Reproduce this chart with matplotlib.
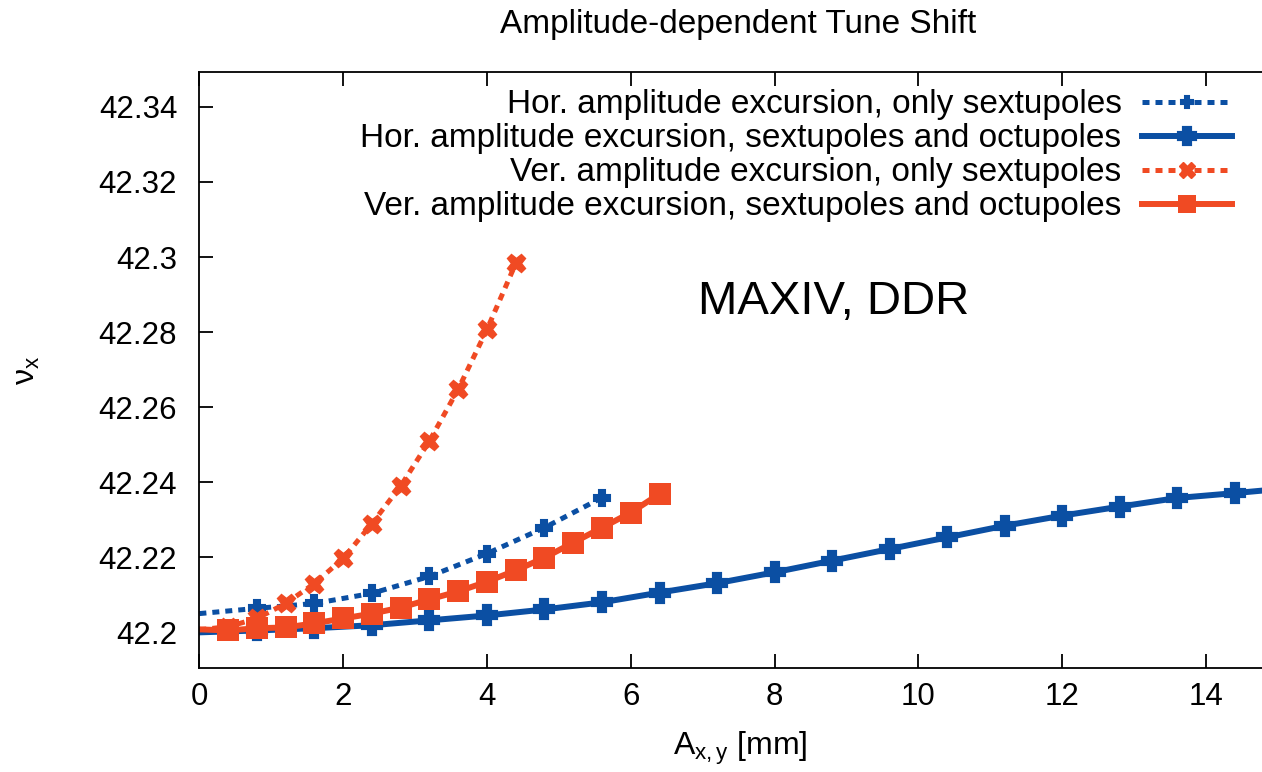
import numpy as np
import matplotlib
matplotlib.use('Agg')
import matplotlib.pyplot as plt
from matplotlib.ticker import FuncFormatter

plt.rcParams['font.family'] = ['Liberation Sans', 'DejaVu Sans']
plt.rcParams['mathtext.fontset'] = 'custom'
plt.rcParams['mathtext.rm'] = 'Liberation Sans'
plt.rcParams['mathtext.it'] = 'Liberation Sans:italic'

# data
hor_sext_x = [0.0, 0.8, 1.6, 2.4, 3.2, 4.0, 4.8, 5.6]
hor_sext_y = [42.2050, 42.2064, 42.2077, 42.2104, 42.2149, 42.2210, 42.2279, 42.2359]

hor_oct_x = [0.0, 0.8, 1.6, 2.4, 3.2, 4.0, 4.8, 5.6, 6.4, 7.2, 8.0, 8.8,
             9.6, 10.4, 11.2, 12.0, 12.8, 13.6, 14.4, 15.2]
hor_oct_y = [42.2000, 42.2005, 42.2011, 42.2019, 42.2032, 42.2045, 42.2061,
             42.2080, 42.2106, 42.2131, 42.2160, 42.2191, 42.2222, 42.2253,
             42.2284, 42.2311, 42.2335, 42.2358, 42.2371, 42.2385]

ver_sext_x = [0.0, 0.4, 0.8, 1.2, 1.6, 2.0, 2.4, 2.8, 3.2, 3.6, 4.0, 4.4]
ver_sext_y = [42.2007, 42.2015, 42.2037, 42.2077, 42.2130, 42.2197, 42.2290,
              42.2390, 42.2510, 42.2648, 42.2807, 42.2983]

ver_oct_x = [0.0, 0.4, 0.8, 1.2, 1.6, 2.0, 2.4, 2.8, 3.2, 3.6, 4.0, 4.4,
             4.8, 5.2, 5.6, 6.0, 6.4]
ver_oct_y = [42.2008, 42.2005, 42.2011, 42.2013, 42.2024, 42.2037, 42.2050,
             42.2066, 42.2088, 42.2109, 42.2135, 42.2165, 42.2199, 42.2239,
             42.2279, 42.2319, 42.2369]

labels = ['Hor. amplitude excursion, only sextupoles',
          'Hor. amplitude excursion, sextupoles and octupoles',
          'Ver. amplitude excursion, only sextupoles',
          'Ver. amplitude excursion, sextupoles and octupoles']

blue = '#0b4fa3'
orange = '#f04a23'
dots = (0, (1.4, 1.2))
# gnuplot drops points sitting on the border
skip0 = slice(1, None)

fig = plt.figure(figsize=(12.62, 7.72), dpi=100)
ax = fig.add_axes([0.158, 0.1347, 0.842, 0.772])

ax.plot(hor_sext_x, hor_sext_y, color=blue, lw=3.6, ls=dots, dash_capstyle='butt',
        marker='P', ms=11, mew=1.5, mec=blue, markevery=skip0, label=labels[0])
ax.plot(hor_oct_x, hor_oct_y, color=blue, lw=4.3, ls='-',
        marker='P', ms=13, mew=3, mec=blue, markevery=skip0, label=labels[1])
ax.plot(ver_sext_x, ver_sext_y, color=orange, lw=3.6, ls=dots, dash_capstyle='butt',
        marker='X', ms=13, mew=1, mec=orange, markevery=skip0, label=labels[2])
ax.plot(ver_oct_x, ver_oct_y, color=orange, lw=4.3, ls='-',
        marker='s', ms=16, mew=0, markevery=skip0, label=labels[3])

ax.set_xlim(0, 14.78)
ax.set_ylim(42.1905, 42.3493)
ax.set_xticks(np.arange(0, 15, 2))
ax.set_yticks(np.arange(42.20, 42.345, 0.02))
ax.yaxis.set_major_formatter(FuncFormatter(lambda v, p: '%g' % round(v, 4)))

ax.spines['right'].set_visible(False)
for s in ['left', 'bottom', 'top']:
    ax.spines[s].set_linewidth(1.3)
ax.tick_params(axis='both', direction='in', length=10, width=1.3, labelsize=22.5)
ax.tick_params(axis='x', top=True, pad=10)
ax.tick_params(axis='y', pad=16)

ax.set_xlabel(r'$\mathregular{A_{x,y}}$ [mm]', fontsize=23)
ax.xaxis.set_label_coords(0.509, -0.104)
ax.set_ylabel(r'$\mathregular{\nu_x}$', fontsize=23)
ax.yaxis.set_label_coords(-0.148, 0.5)

fig.text(0.585, 0.957, 'Amplitude-dependent Tune Shift', fontsize=24,
         ha='center', va='baseline')
ax.text(0.469, 0.614, 'MAXIV, DDR', fontsize=34, transform=ax.transAxes,
        ha='left', va='center')

leg = ax.legend(loc='upper right', bbox_to_anchor=(0.972, 0.971), frameon=False,
                markerfirst=False, fontsize=24, handlelength=2.7,
                handletextpad=0.62, labelspacing=0.09, borderpad=0,
                borderaxespad=0, numpoints=1, markerscale=0.85)
leg._legend_handle_box.get_children()[0].align = 'right'

fig.savefig('out.png', dpi=100)
